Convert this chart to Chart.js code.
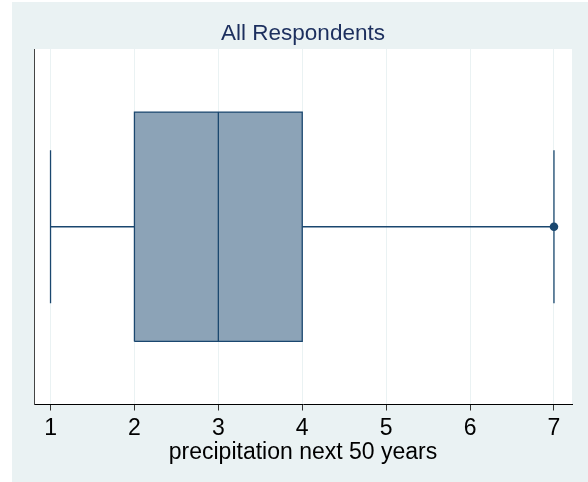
<!DOCTYPE html>
<html lang="en">
<head>
  <meta charset="UTF-8">
  <title>All Respondents - box plot</title>
  <script src="https://cdn.jsdelivr.net/npm/chart.js"></script>
  <style>
    body {
      margin: 0;
      background: #ffffff;
      font-family: "Liberation Sans", Arial, sans-serif;
    }

    #chart-container {
      position: absolute;
      left: 12px;
      top: 2px;
      width: 576px;
      height: 480px;
      background: #eaf2f3;
    }

    canvas {
      display: block;
    }
  </style>
</head>
<body>
  <div id="chart-container">
    <canvas id="boxChart" width="576" height="480"></canvas>
  </div>

  <script>
    // values
    const groupTitle = 'All Respondents';
    const axisTitle = 'precipitation next 50 years';
    const quartiles = [2, 3, 4];      // lower quartile, median, upper quartile
    const adjacent = [1, 7];          // whisker ends
    const outliers = [7];
    const xTicks = [1, 2, 3, 4, 5, 6, 7];

    const NAVY = '#1a476f';
    const FILL = '#8ca3b7';
    const FONT = '"Liberation Sans", Arial, sans-serif';

    // vertical extents of the marks on a hidden -1..1 axis
    const BOX_H = 0.645;
    const CAP_H = 0.43;

    const [q1, med, q3] = quartiles;
    const [lo, hi] = adjacent;

    function seg(points, extra) {
      return Object.assign({
        data: points,
        showLine: true,
        borderColor: NAVY,
        borderWidth: 1.3,
        pointRadius: 0,
        fill: false,
        order: 1
      }, extra || {});
    }

    const datasets = [
      // box drawn first so the median line sits on top of it
      seg([{x: q1, y: -BOX_H}, {x: q3, y: -BOX_H}, {x: q3, y: BOX_H}, {x: q1, y: BOX_H}, {x: q1, y: -BOX_H}],
          {fill: 'shape', backgroundColor: FILL, order: 5}),
      seg([{x: med, y: -BOX_H}, {x: med, y: BOX_H}]),
      seg([{x: lo, y: 0}, {x: q1, y: 0}]),
      seg([{x: q3, y: 0}, {x: hi, y: 0}]),
      seg([{x: lo, y: -CAP_H}, {x: lo, y: CAP_H}]),
      seg([{x: hi, y: -CAP_H}, {x: hi, y: CAP_H}]),
      {
        data: outliers.map(v => ({x: v, y: 0})),
        showLine: false,
        pointRadius: 4.3,
        pointBackgroundColor: NAVY,
        pointBorderColor: NAVY,
        pointBorderWidth: 0,
        order: 0
      }
    ];

    const plotBackground = {
      id: 'plotBackground',
      beforeDraw(chart) {
        const a = chart.chartArea;
        const ctx = chart.ctx;
        ctx.save();
        ctx.fillStyle = '#ffffff';
        ctx.fillRect(a.left, a.top, a.right - a.left, a.bottom - a.top);
        ctx.restore();
      }
    };

    const ctx = document.getElementById('boxChart').getContext('2d');

    new Chart(ctx, {
      type: 'scatter',
      data: { datasets },
      plugins: [plotBackground],
      options: {
        responsive: false,
        animation: false,
        layout: {
          padding: { left: 22, right: 16, top: 0, bottom: 17.5 }
        },
        scales: {
          x: {
            type: 'linear',
            min: 0.803,
            max: 7.215,
            afterBuildTicks: axis => {
              axis.ticks = xTicks.map(v => ({ value: v }));
            },
            grid: {
              color: '#eaf2f3',
              tickColor: '#333333',
              tickLength: 6,
              lineWidth: 1
            },
            border: { color: '#000000', width: 1 },
            ticks: {
              color: '#000000',
              padding: 6.5,
              maxRotation: 0,
              font: { family: FONT, size: 23, lineHeight: 1 },
              callback: v => String(v)
            },
            title: {
              display: true,
              text: axisTitle,
              color: '#000000',
              padding: { top: -5, bottom: 0 },
              font: { family: FONT, size: 23, lineHeight: 1 }
            }
          },
          y: {
            type: 'linear',
            min: -1,
            max: 1,
            grid: { display: false, drawTicks: false },
            border: { display: true, color: '#444444', width: 1 },
            ticks: { display: false }
          }
        },
        plugins: {
          legend: { display: false },
          tooltip: { enabled: false },
          title: {
            display: true,
            text: groupTitle,
            color: '#1c2f5e',
            padding: { top: 18, bottom: 2 },
            font: { family: FONT, size: 22.5, weight: 'normal' }
          }
        }
      }
    });
  </script>
</body>
</html>
